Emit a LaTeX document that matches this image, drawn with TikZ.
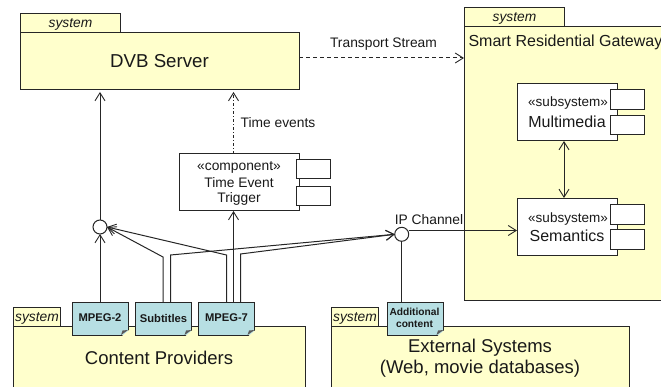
\documentclass[tikz,border=0pt]{standalone}
\usepackage{fontspec}
\setmainfont{Liberation Sans}
\usetikzlibrary{arrows.meta}
\newcommand{\fs}[1]{\fontsize{#1}{#1}\selectfont}
\tikzset{
  x=1pt,y=-1pt,
  every node/.style={inner sep=0pt,outer sep=0pt,text=black!90},
  box/.style={draw=black!85,line width=1pt,anchor=north west,rectangle},
  pkg/.style={box,fill=pkgyellow},
  comp/.style={box,fill=white},
  note/.style={box,fill=noteblue,minimum width=56pt,minimum height=33pt},
  lollipop/.style={circle,draw=black!85,fill=white,line width=1pt,minimum size=14pt},
  conn/.style={draw=black!85,line width=1pt},
  open/.style={-{Straight Barb[length=8pt,width=10pt,line width=0.9pt]}},
  openboth/.style={{Straight Barb[length=8pt,width=10pt,line width=0.9pt]}-{Straight Barb[length=8pt,width=10pt,line width=0.9pt]}},
  lbl/.style={anchor=center},
}
\definecolor{pkgyellow}{HTML}{FFFFCC}
\definecolor{noteblue}{HTML}{B7DFE3}
\begin{document}
\begin{tikzpicture}
\useasboundingbox (0,0) rectangle (661,387);
% DVB Server
\node[pkg,minimum width=100pt,minimum height=19.5pt] (dvbtab) at (20.5,13.5) {};
\node[pkg,minimum width=279pt,minimum height=57pt] (dvb) at (20.5,33) {};
\node[lbl] (dvbt) at (70.5,24.5) {\fs{13.8}\itshape system};
\node[lbl] (dvbn) at (159.5,61.5) {\fs{18.7}DVB Server};
% Gateway
\node[pkg,minimum width=100pt,minimum height=19.5pt] (gwtab) at (464.5,7.5) {};
\node[pkg,minimum width=230pt,minimum height=273pt] (gw) at (464.5,27) {};
\node[lbl] (gwt) at (514.5,18) {\fs{13.8}\itshape system};
\node[anchor=west] (gwn) at (468.5,42) {\fs{16}Smart Residential Gateway};
% Content Providers
\node[pkg,minimum width=47pt,minimum height=19pt] (cptab) at (13.5,307) {};
\node[pkg,minimum width=292pt,minimum height=80pt] (cp) at (13.5,326) {};
\node[lbl] (cpt) at (37,318) {\fs{13.8}\itshape system};
\node[lbl] (cpn) at (159,358) {\fs{18.5}Content Providers};
% External systems
\node[pkg,minimum width=47pt,minimum height=19pt] (extab) at (331.5,307) {};
\node[pkg,minimum width=298pt,minimum height=80pt] (ex) at (331.5,326) {};
\node[lbl] (ext) at (355,318) {\fs{13.8}\itshape system};
\node[lbl] (exn) at (480,348) {\fs{18.5}External Systems};
\node[lbl] (exn2) at (480,369) {\fs{18.5}(Web, movie databases)};
% Time Event Trigger
\node[comp,minimum width=119.5pt,minimum height=57pt] (trig) at (179.5,154) {};
\node[comp,minimum width=34pt,minimum height=19pt] (trp1) at (296.5,160) {};
\node[comp,minimum width=34pt,minimum height=19pt] (trp2) at (296.5,187) {};
\node[lbl] (trt1) at (239,167) {\fs{13.8}«component»};
\node[lbl] (trt2) at (239,182.5) {\fs{13.8}Time Event};
\node[lbl] (trt3) at (239,199) {\fs{13.8}Trigger};
% Multimedia
\node[comp,minimum width=99.5pt,minimum height=57pt] (mm) at (517.5,84) {};
\node[comp,minimum width=34pt,minimum height=19.5pt] (mmp1) at (610,90) {};
\node[comp,minimum width=34pt,minimum height=19.5pt] (mmp2) at (610,115.5) {};
\node[lbl] (mmt1) at (568,103.5) {\fs{13.5}«subsystem»};
\node[lbl] (mmt2) at (567,122) {\fs{16}Multimedia};
% Semantics
\node[comp,minimum width=99.5pt,minimum height=57pt] (sem) at (517.5,198.5) {};
\node[comp,minimum width=34pt,minimum height=19.5pt] (sep1) at (610,205) {};
\node[comp,minimum width=34pt,minimum height=19.5pt] (sep2) at (610,230) {};
\node[lbl] (set1) at (568,219) {\fs{13.5}«subsystem»};
\node[lbl] (set2) at (567,235.5) {\fs{16}Semantics};
% Lollipops
\node[lollipop] (cL) at (100,227) {};
\node[lollipop] (cR) at (401.7,234.3) {};
\node[lbl] (ipl) at (429,219.5) {\fs{13.8}IP Channel};
% Notes
\node[note] (n1) at (72,302) {};
\node[note] (n2) at (135.5,302) {};
\node[note] (n3) at (198.5,302) {};
\node[note] (n4) at (387.5,302) {};
\foreach \n in {n1,n2,n3,n4}{
  \fill[black!65] ([shift={(-7,0)}]\n.south east) -- ([shift={(0,-5)}]\n.south east) -- ([shift={(-5.5,-4.5)}]\n.south east) -- cycle;
  \fill[pkgyellow] ([shift={(-6,1)}]\n.south east) -- ([shift={(1,-5)}]\n.south east) -- ([shift={(1,1)}]\n.south east) -- cycle;
}
\node[lbl] (n1t) at (100,318) {\fs{11.2}\bfseries MPEG-2};
\node[lbl] (n2t) at (163.5,318) {\fs{11.2}\bfseries Subtitles};
\node[lbl] (n3t) at (226.5,318) {\fs{11.2}\bfseries MPEG-7};
\node[lbl] (n4t) at (414.5,312) {\fs{10.2}\bfseries Additional};
\node[lbl] (n4t2) at (414.5,324) {\fs{10.2}\bfseries content};
% Bends and free ends
\coordinate (b2L) at (163,257);
\coordinate (b2R) at (170.5,255);
\coordinate (b3L) at (226.5,255);
\coordinate (b3R) at (240.5,254);
\coordinate (s3) at (233.5,302);
\coordinate (t3) at (233.5,211);
\coordinate (t4) at (233.5,154);
\coordinate (t5) at (233.5,92);
\coordinate (d1) at (299,58);
\coordinate (d2) at (464,58);
\coordinate (s1) at (408.5,230.5);
\coordinate (s2) at (517,230.5);
\coordinate (v1) at (564,141);
\coordinate (v2) at (564,198);
% Connectors
\draw[conn,open,dash pattern=on 4pt off 3pt] (d1) -- (d2);
\node[lbl] (ts) at (383.5,44) {\fs{13.8}Transport Stream};
\draw[conn,open,shorten >=2pt] (cL.north) -- (cL.north |- dvb.south);
\draw[conn,open] (n1.north -| cL) -- (cL.south);
\draw[conn,open] (n2.north -| b2L) -- (b2L) -- (cL.east);
\draw[conn,open] (n3.north -| b3L) -- (b3L) -- (cL.east);
\draw[conn,open] (n2.north -| b2R) -- (b2R) -- (cR.west);
\draw[conn,open] (n3.north -| b3R) -- (b3R) -- (cR.west);
\draw[conn,open] (s3) -- (t3);
\draw[conn,open,dash pattern=on 3pt off 2pt on 1pt off 2pt] (t4) -- (t5);
\node[lbl] (te) at (278,122.5) {\fs{13.8}Time events};
\draw[conn,open] (s1) -- (s2);
\draw[conn] (cR.south) -- (n4.north -| cR);
\draw[conn,openboth] (v1) -- (v2);
\end{tikzpicture}
\end{document}
